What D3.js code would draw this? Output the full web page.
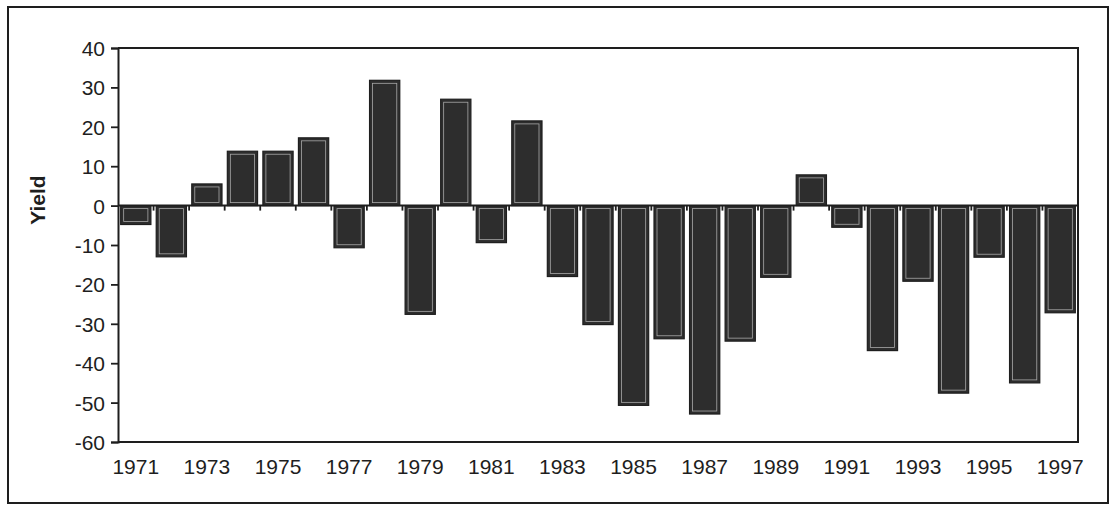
<!DOCTYPE html>
<html>
<head>
<meta charset="utf-8">
<script src="https://cdn.jsdelivr.net/npm/d3@7"></script>
<style>
  html, body { margin: 0; padding: 0; background: #fff; }
  svg { display: block; font-family: "Liberation Sans", Arial, sans-serif; }
</style>
</head>
<body>
<svg id="chart" width="1114" height="507"></svg>
<script>
const years = [1971,1972,1973,1974,1975,1976,1977,1978,1979,1980,1981,1982,1983,1984,
               1985,1986,1987,1988,1989,1990,1991,1992,1993,1994,1995,1996,1997];
const values = [-4.8,-13,5.5,13.8,13.8,17.2,-10.7,31.8,-27.6,27,-9.4,21.5,-18,-30.2,
                -50.7,-33.8,-52.9,-34.4,-18.2,7.8,-5.5,-36.8,-19.2,-47.6,-13.1,-45,-27.2];
const yTicks = [40,30,20,10,0,-10,-20,-30,-40,-50,-60];
const xTickLabels = [1971,1973,1975,1977,1979,1981,1983,1985,1987,1989,1991,1993,1995,1997];
const yLabel = "Yield";

const svg = d3.select("#chart");
const ink = "#1e1e1e";
const L = 118, R = 1078, T = 48, B = 442;

const x = d3.scaleBand().domain(years).range([L, R]).paddingInner(0.15).paddingOuter(0.075);
const y = d3.scaleLinear().domain([-60, 40]).range([B, T]);

// outer frame
svg.append("rect").attr("x", 8).attr("y", 7).attr("width", 1100).attr("height", 496)
  .attr("fill", "none").attr("stroke", ink).attr("stroke-width", 2);

// bars
const bars = svg.append("g");
bars.selectAll("rect.bar").data(years).join("rect")
  .attr("class", "bar")
  .attr("x", d => x(d))
  .attr("width", x.bandwidth())
  .attr("y", (d, i) => y(Math.max(0, values[i])))
  .attr("height", (d, i) => Math.abs(y(values[i]) - y(0)))
  .attr("fill", "#2d2d2d").attr("stroke", ink).attr("stroke-width", 1.2);
bars.selectAll("rect.inner").data(years).join("rect")
  .attr("class", "inner")
  .attr("x", d => x(d) + 3)
  .attr("width", x.bandwidth() - 6)
  .attr("y", (d, i) => y(Math.max(0, values[i])) + 3)
  .attr("height", (d, i) => Math.max(0, Math.abs(y(values[i]) - y(0)) - 6))
  .attr("fill", "none").attr("stroke", "#a8a8a8").attr("stroke-width", 0.8);

// plot frame (top, right, bottom)
svg.append("path")
  .attr("d", `M${L},${T}H${R}V${B}H${L}`)
  .attr("fill", "none").attr("stroke", ink).attr("stroke-width", 2);

// y axis
const yAxis = svg.append("g").attr("transform", `translate(${L},0)`)
  .call(d3.axisLeft(y).tickValues(yTicks).tickSize(7).tickPadding(6).tickFormat(d => String(d)));
yAxis.select(".domain").attr("stroke", ink).attr("stroke-width", 2);
yAxis.selectAll(".tick line").attr("stroke", ink).attr("stroke-width", 1.8);
yAxis.selectAll(".tick text").attr("fill", ink).style("font-size", "21px").attr("dy", "0.36em");

// category axis at zero
const zeroAxis = svg.append("g").attr("transform", `translate(0,${y(0)})`);
zeroAxis.append("line").attr("x1", L).attr("x2", R).attr("stroke", ink).attr("stroke-width", 2);
const boundaries = years.slice(1).map(d => x(d) - x.step() * x.paddingInner() / 2);
zeroAxis.selectAll("line.tk").data(boundaries).join("line").attr("class", "tk")
  .attr("x1", d => d).attr("x2", d => d).attr("y1", 0).attr("y2", 5)
  .attr("stroke", ink).attr("stroke-width", 1.8);

// x tick labels at bottom
svg.append("g").selectAll("text").data(xTickLabels).join("text")
  .attr("x", d => x(d) + x.bandwidth() / 2)
  .attr("y", 474)
  .attr("text-anchor", "middle")
  .attr("fill", ink)
  .style("font-size", "21px")
  .text(d => d);

// y label
svg.append("text")
  .attr("transform", "translate(45,200) rotate(-90)")
  .attr("text-anchor", "middle")
  .attr("fill", ink)
  .style("font-size", "21px").style("font-weight", "bold")
  .text(yLabel);
</script>
</body>
</html>
